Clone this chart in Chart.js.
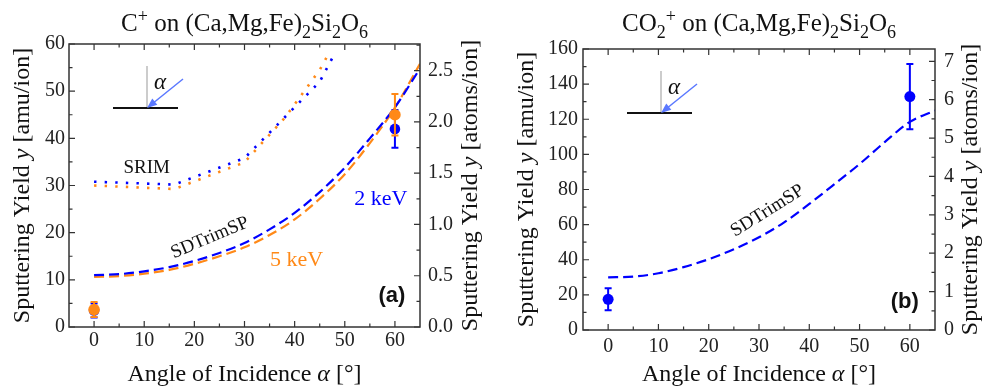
<!DOCTYPE html>
<html>
<head>
<meta charset="utf-8">
<script src="https://cdn.jsdelivr.net/npm/chart.js@4.4.1/dist/chart.umd.min.js"></script>
<style>
  html, body { margin: 0; padding: 0; background: #fff; }
  #wrap { position: relative; width: 992px; height: 391px; }
  .panel { position: absolute; top: 0; width: 496px; height: 391px; }
</style>
</head>
<body>
<div id="wrap">
  <div class="panel" style="left:0"><canvas id="left" width="496" height="391"></canvas></div>
  <div class="panel" style="left:496px"><canvas id="right" width="496" height="391"></canvas></div>
</div>
<script>
// ---- data ----
var angleGrid = [0, 5, 10, 15, 20, 25, 30, 35, 40, 45, 50, 55, 60, 65];
var sdtrim2keV = [11.0, 11.2, 11.8, 12.7, 14.0, 15.7, 17.8, 20.7, 24.2, 28.6, 33.8, 40.0, 46.6, 54.8];
var sdtrim5keV = [10.6, 10.8, 11.3, 12.1, 13.4, 15.0, 16.9, 19.5, 22.8, 27.2, 32.4, 39.0, 46.5, 55.8];
var srimAngles2keV = [0, 16, 30, 45, 48];
var srim2keV = [30.8, 30.2, 35.8, 52.0, 58.0];
var srimAngles5keV = [0, 16, 30, 38, 45, 47];
var srim5keV = [30.0, 29.25, 34.9, 44.3, 54.5, 58.4];
var expAngles = [0, 60];
var exp2keV = [3.5, 42.0];
var err2keV = [1.5, 4.0];
var exp5keV = [3.7, 45.0];
var err5keV = [1.6, 4.4];
var sdtrimCO2 = [30.0, 30.4, 32.3, 35.8, 40.3, 46.0, 52.8, 61.3, 71.8, 83.0, 94.5, 107.0, 118.5, 125.0];
var expCO2 = [17.5, 132.9];
var errCO2 = [6.3, 18.6];

var xTicks = [0, 10, 20, 30, 40, 50, 60];
var xMinor = [5, 15, 25, 35, 45, 55];
var yTicksA = [0, 10, 20, 30, 40, 50, 60];
var yMinorA = [5, 15, 25, 35, 45, 55];
var y2TicksA = [0, 0.5, 1.0, 1.5, 2.0, 2.5];
var y2MinorA = [0.25, 0.75, 1.25, 1.75, 2.25, 2.75];
var yTicksB = [0, 20, 40, 60, 80, 100, 120, 140, 160];
var yMinorB = [10, 30, 50, 70, 90, 110, 130, 150];
var y2TicksB = [0, 1, 2, 3, 4, 5, 6, 7];
var y2MinorB = [0.5, 1.5, 2.5, 3.5, 4.5, 5.5, 6.5];

var BLUE = 'rgb(0,0,255)';
var ORANGE = 'rgb(255,137,23)';
var SERIF = '"Liberation Serif", "Times New Roman", serif';
var SANS = '"Liberation Sans", Arial, sans-serif';
var AXIS = '#333';

function xy(xs, ys) {
  return xs.map(function (x, i) { return { x: x, y: ys[i] }; });
}

function fontFor(p, size) {
  var small = p[1] === 'sub' || p[1] === 'sup';
  var s = small ? Math.round(size * 0.7) : size;
  return (p[1] === 'i' ? 'italic ' : '') + s + 'px ' + SERIF;
}

function richText(ctx, parts, x, y, size) {
  var w = 0;
  parts.forEach(function (p) { ctx.font = fontFor(p, size); w += ctx.measureText(p[0]).width; });
  var cx = x - w / 2;
  ctx.textAlign = 'left';
  parts.forEach(function (p) {
    ctx.font = fontFor(p, size);
    var dy = p[1] === 'sub' ? size * 0.28 : p[1] === 'sup' ? -size * 0.38 : 0;
    ctx.fillText(p[0], cx, y + dy);
    cx += ctx.measureText(p[0]).width;
  });
}

function drawInset(ctx, ox, oy) {
  ctx.save();
  ctx.lineWidth = 1.5;
  ctx.strokeStyle = '#bbb';
  ctx.beginPath(); ctx.moveTo(ox, oy); ctx.lineTo(ox, oy - 42); ctx.stroke();
  ctx.strokeStyle = '#111';
  ctx.lineWidth = 2;
  ctx.beginPath(); ctx.moveTo(ox - 34, oy); ctx.lineTo(ox + 31, oy); ctx.stroke();
  var ax = ox + 36, ay = oy - 29;
  var ang = Math.atan2(oy - ay, ox - ax);
  ctx.strokeStyle = '#5a78ff';
  ctx.fillStyle = '#5a78ff';
  ctx.lineWidth = 1.5;
  ctx.beginPath(); ctx.moveTo(ax, ay); ctx.lineTo(ox - 6 * Math.cos(ang), oy - 6 * Math.sin(ang)); ctx.stroke();
  ctx.beginPath();
  ctx.moveTo(ox, oy);
  ctx.lineTo(ox - 10 * Math.cos(ang) + 4 * Math.sin(ang), oy - 10 * Math.sin(ang) - 4 * Math.cos(ang));
  ctx.lineTo(ox - 10 * Math.cos(ang) - 4 * Math.sin(ang), oy - 10 * Math.sin(ang) + 4 * Math.cos(ang));
  ctx.closePath(); ctx.fill();
  ctx.fillStyle = '#111';
  ctx.font = 'italic 23px ' + SERIF;
  ctx.textAlign = 'center'; ctx.textBaseline = 'middle';
  ctx.fillText('α', ox + 13, oy - 25);
  ctx.restore();
}

var decoPlugin = {
  id: 'deco',
  afterDatasetDraw: function (chart, args) {
    var ds = chart.data.datasets[args.index];
    if (!ds.errors) return;
    var ctx = chart.ctx, xs = chart.scales.x, ys = chart.scales.y;
    ctx.save();
    ctx.strokeStyle = ds.backgroundColor;
    ctx.lineWidth = 2;
    ds.data.forEach(function (p, i) {
      var px = xs.getPixelForValue(p.x);
      var lo = ys.getPixelForValue(p.y - ds.errors[i]);
      var hi = ys.getPixelForValue(p.y + ds.errors[i]);
      ctx.beginPath();
      ctx.moveTo(px, lo); ctx.lineTo(px, hi);
      ctx.moveTo(px - 3.5, lo); ctx.lineTo(px + 3.5, lo);
      ctx.moveTo(px - 3.5, hi); ctx.lineTo(px + 3.5, hi);
      ctx.stroke();
    });
    ctx.restore();
  },
  afterDraw: function (chart) {
    var o = chart.options.plugins.deco;
    var ctx = chart.ctx, a = chart.chartArea;
    var xs = chart.scales.x, ys = chart.scales.y, y2 = chart.scales.y2;
    ctx.save();
    // frame
    ctx.strokeStyle = AXIS; ctx.lineWidth = 1.5;
    ctx.strokeRect(a.left, a.top, a.right - a.left, a.bottom - a.top);
    // inward ticks
    ctx.lineWidth = 1.2;
    ctx.beginPath();
    function hTick(v, len) {
      var px = xs.getPixelForValue(v);
      ctx.moveTo(px, a.bottom); ctx.lineTo(px, a.bottom - len);
      ctx.moveTo(px, a.top); ctx.lineTo(px, a.top + len);
    }
    xTicks.forEach(function (v) { hTick(v, 6); });
    xMinor.forEach(function (v) { hTick(v, 3.5); });
    o.yTicks.forEach(function (v) { var py = ys.getPixelForValue(v); ctx.moveTo(a.left, py); ctx.lineTo(a.left + 6, py); });
    o.yMinor.forEach(function (v) { var py = ys.getPixelForValue(v); ctx.moveTo(a.left, py); ctx.lineTo(a.left + 3.5, py); });
    o.y2Ticks.forEach(function (v) { var py = y2.getPixelForValue(v); ctx.moveTo(a.right, py); ctx.lineTo(a.right - 6, py); });
    o.y2Minor.forEach(function (v) { var py = y2.getPixelForValue(v); if (py >= a.top) { ctx.moveTo(a.right, py); ctx.lineTo(a.right - 3.5, py); } });
    ctx.stroke();

    // titles
    ctx.fillStyle = '#111';
    ctx.textBaseline = 'alphabetic';
    var cx = (a.left + a.right) / 2, cy = (a.top + a.bottom) / 2;
    richText(ctx, o.title, cx, 31, 25);
    richText(ctx, [['Angle of Incidence ', ''], ['α', 'i'], [' [°]', '']], cx, 381, 24);
    ctx.textBaseline = 'middle';
    [[o.yTitleX, '[amu/ion]'], [o.y2TitleX, '[atoms/ion]']].forEach(function (t) {
      ctx.save();
      ctx.translate(t[0], cy);
      ctx.rotate(-Math.PI / 2);
      richText(ctx, [['Sputtering Yield ', ''], ['y', 'i'], [' ' + t[1], '']], 0, 0, 24);
      ctx.restore();
    });

    drawInset(ctx, a.left + 78, a.top + 64);

    // in-plot labels placed in data coordinates
    o.labels.forEach(function (l) {
      ctx.save();
      ctx.translate(xs.getPixelForValue(l.x), ys.getPixelForValue(l.y));
      ctx.rotate((l.rot || 0) * Math.PI / 180);
      ctx.fillStyle = l.color;
      ctx.font = l.font;
      ctx.textAlign = 'center'; ctx.textBaseline = 'middle';
      ctx.fillText(l.text, 0, 0);
      ctx.restore();
    });
    ctx.restore();
  }
};

function fixedTicks(list) {
  return function (s) { s.ticks = list.map(function (v) { return { value: v }; }); };
}

function tickFont() {
  return { family: SERIF, size: 20 };
}

function makeChart(id, datasets, p) {
  return new Chart(document.getElementById(id), {
    type: 'scatter',
    data: { datasets: datasets },
    plugins: [decoPlugin],
    options: {
      responsive: false,
      animation: false,
      layout: { padding: { top: p.top, left: 0, right: 0, bottom: 0 } },
      plugins: {
        legend: { display: false },
        tooltip: { enabled: false },
        deco: p
      },
      scales: {
        x: {
          type: 'linear', min: -5, max: 65,
          afterBuildTicks: fixedTicks(xTicks),
          afterFit: function (s) { s.height = p.xHeight; },
          grid: { display: false, drawTicks: false },
          border: { display: false },
          ticks: { font: tickFont(), color: '#222', padding: p.xPad, maxRotation: 0 }
        },
        y: {
          position: 'left', min: 0, max: p.yMax,
          afterBuildTicks: fixedTicks(p.yTicks),
          afterFit: function (s) { s.width = p.yWidth; },
          grid: { display: false, drawTicks: false },
          border: { display: false },
          ticks: { font: tickFont(), color: '#222', padding: p.yPad }
        },
        y2: {
          position: 'right', min: 0, max: p.y2Max,
          afterBuildTicks: fixedTicks(p.y2Ticks),
          afterFit: function (s) { s.width = p.y2Width; },
          grid: { display: false, drawTicks: false },
          border: { display: false },
          ticks: { font: tickFont(), color: '#222', padding: p.y2Pad,
            callback: function (v) { return p.y2Dec ? v.toFixed(1) : String(v); } }
        }
      }
    }
  });
}

function pointSet(data, err, color, r) {
  return { data: data, errors: err, backgroundColor: color, borderWidth: 0, pointRadius: r, showLine: false };
}
function curve(data, color, dash, smooth, w) {
  return {
    data: data, borderColor: color, backgroundColor: color, borderWidth: w || 2, borderDash: dash,
    pointRadius: 0, showLine: true, fill: false,
    cubicInterpolationMode: smooth ? 'monotone' : 'default', tension: 0
  };
}

// ---- panel (a): C+ ----
makeChart('left', [
  pointSet(xy(expAngles, exp5keV), err5keV, ORANGE, 5.8),
  pointSet(xy(expAngles, exp2keV), err2keV, BLUE, 5.3),
  curve(xy(angleGrid, sdtrim2keV), BLUE, [10, 5], true, 2.2),
  curve(xy(angleGrid, sdtrim5keV), ORANGE, [10, 5], true, 2.2),
  curve(xy(srimAngles2keV, srim2keV), BLUE, [2.4, 8.2], false, 2.6),
  curve(xy(srimAngles5keV, srim5keV), ORANGE, [2.4, 8.2], false, 2.6)
], {
  top: 44, xHeight: 64, yWidth: 69, y2Width: 76, xPad: 2, yPad: 4, y2Pad: 8,
  yMax: 60, y2Max: 2.76, y2Dec: true,
  yTicks: yTicksA, yMinor: yMinorA, y2Ticks: y2TicksA, y2Minor: y2MinorA,
  yTitleX: 23, y2TitleX: 471,
  title: [['C', ''], ['+', 'sup'], [' on (Ca,Mg,Fe)', ''], ['2', 'sub'], ['Si', ''], ['2', 'sub'], ['O', ''], ['6', 'sub']],
  labels: [
    { text: 'SRIM', x: 10.5, y: 33.8, color: '#111', font: '19px ' + SERIF },
    { text: 'SDTrimSP', x: 23.1, y: 18.9, color: '#111', font: '19px ' + SERIF, rot: -23 },
    { text: '2 keV', x: 57.2, y: 27.1, color: BLUE, font: '22px ' + SERIF },
    { text: '5 keV', x: 40.4, y: 14.2, color: ORANGE, font: '22px ' + SERIF },
    { text: '(a)', x: 59.4, y: 6.6, color: '#111', font: 'bold 22px ' + SANS }
  ]
});

// ---- panel (b): CO2+ ----
makeChart('right', [
  pointSet(xy(expAngles, expCO2), errCO2, BLUE, 5.5),
  curve(xy(angleGrid, sdtrimCO2), BLUE, [10, 5], true, 2.2)
], {
  top: 49, xHeight: 61, yWidth: 87, y2Width: 57, xPad: 5, yPad: 5, y2Pad: 9,
  yMax: 160, y2Max: 7.32, y2Dec: false,
  yTicks: yTicksB, yMinor: yMinorB, y2Ticks: y2TicksB, y2Minor: y2MinorB,
  yTitleX: 31, y2TitleX: 475,
  title: [['CO', ''], ['2', 'sub'], ['+', 'sup'], [' on (Ca,Mg,Fe)', ''], ['2', 'sub'], ['Si', ''], ['2', 'sub'], ['O', ''], ['6', 'sub']],
  labels: [
    { text: 'SDTrimSP', x: 31.7, y: 67.8, color: '#111', font: '19px ' + SERIF, rot: -32 },
    { text: '(b)', x: 59.0, y: 15.9, color: '#111', font: 'bold 22px ' + SANS }
  ]
});
</script>
</body>
</html>
